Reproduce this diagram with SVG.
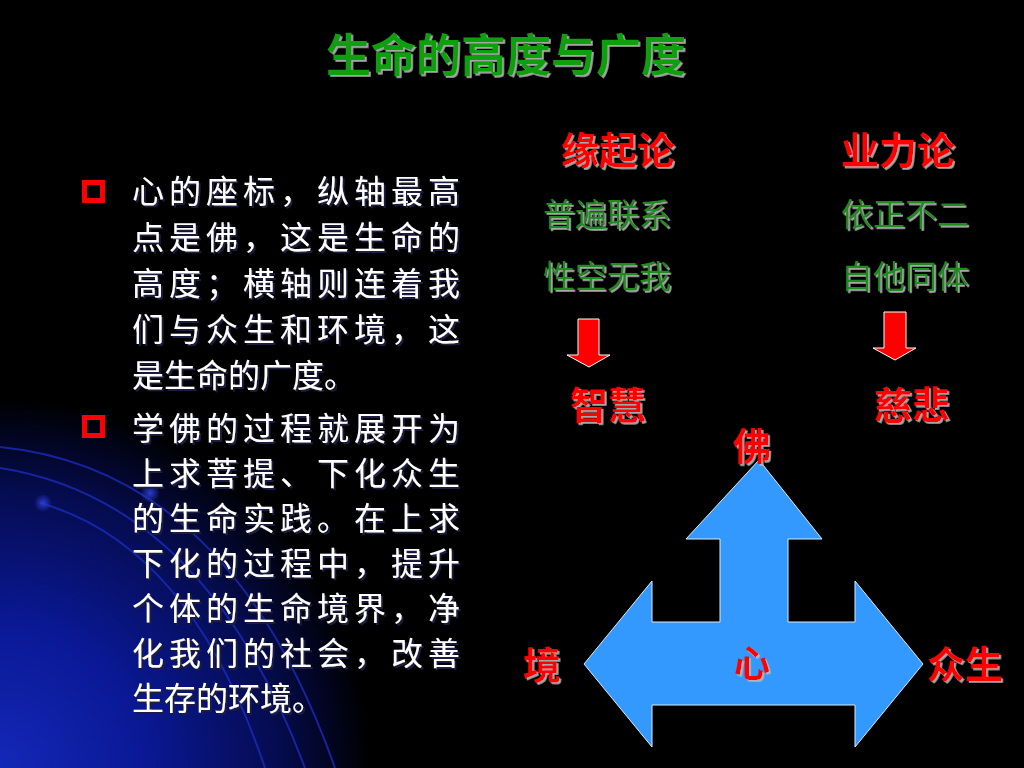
<svg xmlns="http://www.w3.org/2000/svg" width="1024" height="768" viewBox="0 0 1024 768">
<defs>
<radialGradient id="glow" cx="0" cy="768" r="370" gradientUnits="userSpaceOnUse">
<stop offset="0" stop-color="#1428b8"/>
<stop offset="0.4" stop-color="#0a1894"/>
<stop offset="0.75" stop-color="#050c50"/>
<stop offset="1" stop-color="#000000"/>
</radialGradient>
<radialGradient id="dot" cx="0.5" cy="0.5" r="0.5">
<stop offset="0" stop-color="#2a3cd0"/>
<stop offset="1" stop-color="#2a3cd0" stop-opacity="0"/>
</radialGradient>
<filter id="emb" x="-10%" y="-10%" width="130%" height="130%">
<feDropShadow dx="1.8" dy="1.8" stdDeviation="0.3" flood-color="#b8b8b8" flood-opacity="0.9"/>
</filter>
<filter id="dk" x="-10%" y="-10%" width="130%" height="130%">
<feDropShadow dx="2" dy="2" stdDeviation="0.4" flood-color="#1a1a40" flood-opacity="1"/>
</filter>
<style>
.cjk{font-family:"Noto Sans CJK SC","Noto Sans CJK TC",sans-serif;}
.title{font-size:45px;font-weight:bold;fill:#10a010;text-anchor:middle;filter:url(#emb);}
.red{font-size:38px;font-weight:bold;fill:#ff0000;text-anchor:middle;filter:url(#emb);}
.green{font-size:32px;fill:#1a8c1a;text-anchor:middle;filter:url(#emb);}
.body{font-size:32px;fill:#ffffff;filter:url(#dk);}
.bullet{fill:none;stroke:#ff0000;stroke-width:5;}
.down{fill:#ff0000;stroke:#ffffff;stroke-width:1;}
.big{fill:#3399ff;stroke:#d8ecff;stroke-width:1;}
.arc{fill:none;stroke:#1a2cb8;stroke-width:2;opacity:0.8;}
</style>
</defs>
<rect width="1024" height="768" fill="#000000"/>
<g id="background">
<rect x="0" y="390" width="380" height="378" fill="url(#glow)"/>
<path class="arc" d="M0,447 Q230,470 335,768"/>
<path class="arc" d="M0,468 Q205,500 305,768"/>
<path class="arc" d="M40,503 Q190,545 265,768"/>
<circle cx="43" cy="503" r="9" fill="url(#dot)"/>
<circle cx="150" cy="493" r="10" fill="url(#dot)"/>
</g>
<g id="title">
<text class="cjk title" x="506" y="72">生命的高度与广度</text>
</g>
<g id="bullets">
<rect class="bullet" x="84.5" y="182.5" width="18" height="18"/>
<rect class="bullet" x="84.5" y="417.5" width="18" height="18"/>
<text class="cjk body" x="132" y="203" textLength="328" lengthAdjust="spacing">心的座标，纵轴最高</text>
<text class="cjk body" x="132" y="249" textLength="328" lengthAdjust="spacing">点是佛，这是生命的</text>
<text class="cjk body" x="132" y="295" textLength="328" lengthAdjust="spacing">高度；横轴则连着我</text>
<text class="cjk body" x="132" y="341" textLength="328" lengthAdjust="spacing">们与众生和环境，这</text>
<text class="cjk body" x="132" y="387">是生命的广度。</text>
<text class="cjk body" x="132" y="440" textLength="328" lengthAdjust="spacing">学佛的过程就展开为</text>
<text class="cjk body" x="132" y="485" textLength="328" lengthAdjust="spacing">上求菩提、下化众生</text>
<text class="cjk body" x="132" y="530" textLength="328" lengthAdjust="spacing">的生命实践。在上求</text>
<text class="cjk body" x="132" y="575" textLength="328" lengthAdjust="spacing">下化的过程中，提升</text>
<text class="cjk body" x="132" y="620" textLength="328" lengthAdjust="spacing">个体的生命境界，净</text>
<text class="cjk body" x="132" y="665" textLength="328" lengthAdjust="spacing">化我们的社会，改善</text>
<text class="cjk body" x="132" y="710">生存的环境。</text>
</g>
<g id="node-yuanqi">
<text class="cjk red" x="618" y="164">缘起论</text>
<text class="cjk green" x="607" y="226">普遍联系</text>
<text class="cjk green" x="607" y="288">性空无我</text>
</g>
<g id="node-yeli">
<text class="cjk red" x="898" y="164">业力论</text>
<text class="cjk green" x="905" y="226">依正不二</text>
<text class="cjk green" x="905" y="288">自他同体</text>
</g>
<g id="connectors">
<path class="down" d="M578,319 H599 V355 H610 L589,367 L567,355 H578 Z"/>
<path class="down" d="M884,312 H906 V348 H916 L895,360 L873,348 H884 Z"/>
</g>
<g id="node-zhihui">
<text class="cjk red" x="608" y="419">智慧</text>
</g>
<g id="node-cibei">
<text class="cjk red" x="912" y="419">慈悲</text>
</g>
<g id="node-xin">
<path class="big" d="M759,460 L822,539 H788 V622 H855 V581 L923,664 L855,747 V705 H652 V747 L584,664 L652,581 V622 H720 V539 H686 Z"/>
<text class="cjk red" x="752" y="677" style="font-size:36px">心</text>
</g>
<g id="node-fo">
<text class="cjk red" x="752" y="460">佛</text>
</g>
<g id="node-zhongsheng">
<text class="cjk red" x="965" y="678">众生</text>
</g>
<g id="node-jing">
<text class="cjk red" x="542" y="679">境</text>
</g>
</svg>
